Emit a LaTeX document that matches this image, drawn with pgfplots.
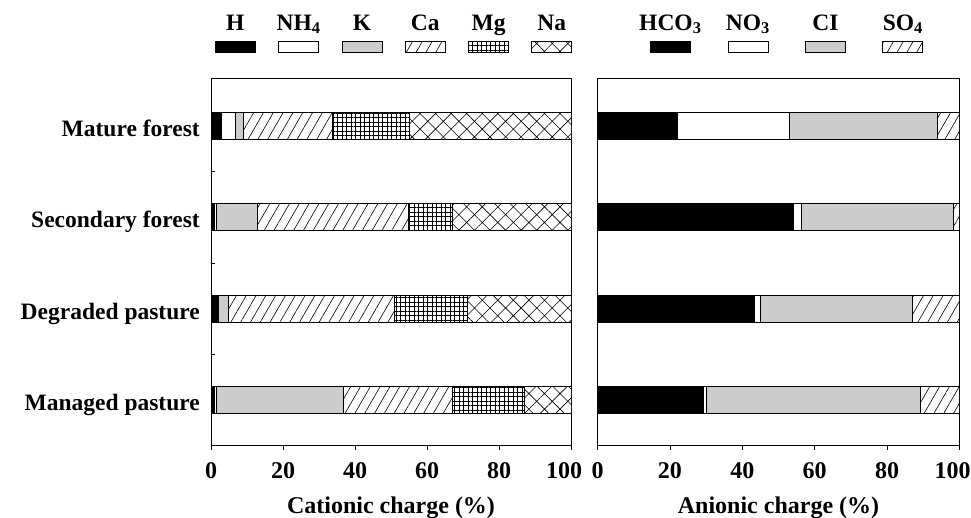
\documentclass[border=0pt]{standalone}
\usepackage{fontspec}
\setmainfont{Liberation Serif}
\usepackage{pgfplots}
\pgfplotsset{compat=1.18}
\usetikzlibrary{patterns.meta}
\newcommand\tfont{\fontsize{24bp}{24bp}\selectfont\bfseries}
\newcommand\cfont{\fontsize{23.5bp}{23.5bp}\selectfont\bfseries}
\newcommand\lfont{\fontsize{23.5bp}{23.5bp}\selectfont\bfseries}
\definecolor{stip}{gray}{0.80}
\pgfplotsset{
  legkey/.style={legend image code/.code={\draw[##1] (0bp,0bp) rectangle (40bp,11bp);
      \node[overlay,anchor=base,font=\lfont,inner sep=0pt] at (20bp,22bp) {#1};}},
  common/.style={scale only axis, height=367bp, xmin=0, xmax=100, ymin=-0.49, ymax=3.52,
    xbar stacked, bar width=27bp, xtick={0,20,...,100},
    xticklabels={0,20,40,60,80,{\kern-14bp 100}}, xtick pos=left,
    tick align=outside, major tick length=5bp, minor tick length=4bp,
    axis line style={line width=0.8bp}, every tick/.style={black, line width=0.7bp},
    /pgf/number format/assume math mode=true,
    xticklabel style={font=\tfont, inner sep=0pt, yshift=-12bp},
    xlabel style={font=\tfont, inner sep=0pt, at={(axis description cs:0.5,0)}, anchor=north, yshift=-52bp},
    legend columns=-1,
    legend style={at={(axis description cs:0,1)}, anchor=south west, yshift=25bp,
      draw=none, fill=none, inner sep=0pt, outer sep=0pt, column sep=0pt,
      nodes={inner sep=0pt, outer sep=0pt}},
  },
  barsty/.style={draw=black, line width=0.7bp},
}
\begin{document}
\begin{tikzpicture}
\path[use as bounding box] (0,0) rectangle (971bp,518bp);
% Cationic
\begin{axis}[common, at={(211bp,73bp)}, anchor=south west, width=360bp,
  xlabel={Cationic charge (\%)},
  ytick={0,1,2,3}, yticklabels={Managed pasture,Degraded pasture,Secondary forest,Mature forest},
  ytick pos=left, major y tick style={draw=none},
  minor ytick={0.5,1.5,2.5}, minor y tick style={xshift=4bp},
  yticklabel style={font=\cfont, inner sep=0pt, anchor=base east, xshift=-6bp, yshift=-10.5bp},
  legend style={xshift=4bp, /tikz/every even column/.append style={column sep=21.6bp}},
]
\addplot[barsty, fill=black, legkey={H}] coordinates {(0.9,0) (1.9,1) (0.8,2) (3.0,3)};
\addlegendentry{}
\addplot[barsty, fill=white, legkey={NH\textsubscript{4}}] coordinates {(0.7,0) (0.2,1) (0.8,2) (3.7,3)};
\addlegendentry{}
\addplot[barsty, fill=stip, legkey={K}] coordinates {(35.3,0) (2.8,1) (11.3,2) (2.3,3)};
\addlegendentry{}
\addplot[barsty, fill=white, postaction={pattern={Lines[angle=60,distance=8.5bp,line width=0.6bp]}}, legkey={Ca}] coordinates {(30.1,0) (46.0,1) (41.9,2) (24.8,3)};
\addlegendentry{}
\addplot[barsty, fill=white, postaction={pattern={Hatch[angle=0,distance=4.5bp,line width=0.5bp]}}, legkey={Mg}] coordinates {(20.0,0) (20.4,1) (12.2,2) (21.2,3)};
\addlegendentry{}
\addplot[barsty, fill=white, postaction={pattern={Hatch[angle=45,distance=11bp,line width=0.6bp]}}, legkey={Na}] coordinates {(13.0,0) (28.7,1) (33.0,2) (45.0,3)};
\addlegendentry{}
\end{axis}
% Anionic
\begin{axis}[common, at={(597.5bp,73bp)}, anchor=south west, width=362bp,
  xlabel={Anionic charge (\%)}, ytick=\empty,
  legend style={xshift=52.5bp, /tikz/every even column/.append style={column sep=35.8bp}},
]
\addplot[barsty, fill=black, legkey={HCO\textsubscript{3}}] coordinates {(29.3,0) (43.3,1) (54.1,2) (22.1,3)};
\addlegendentry{}
\addplot[barsty, fill=white, legkey={NO\textsubscript{3}}] coordinates {(0.7,0) (1.7,1) (2.1,2) (30.9,3)};
\addlegendentry{}
\addplot[barsty, fill=stip, legkey={CI}] coordinates {(59.1,0) (42.1,1) (42.0,2) (41.0,3)};
\addlegendentry{}
\addplot[barsty, fill=white, postaction={pattern={Lines[angle=60,distance=8.5bp,line width=0.6bp]}}, legkey={SO\textsubscript{4}}] coordinates {(10.9,0) (12.9,1) (1.8,2) (6.0,3)};
\addlegendentry{}
\end{axis}
\end{tikzpicture}
\end{document}
